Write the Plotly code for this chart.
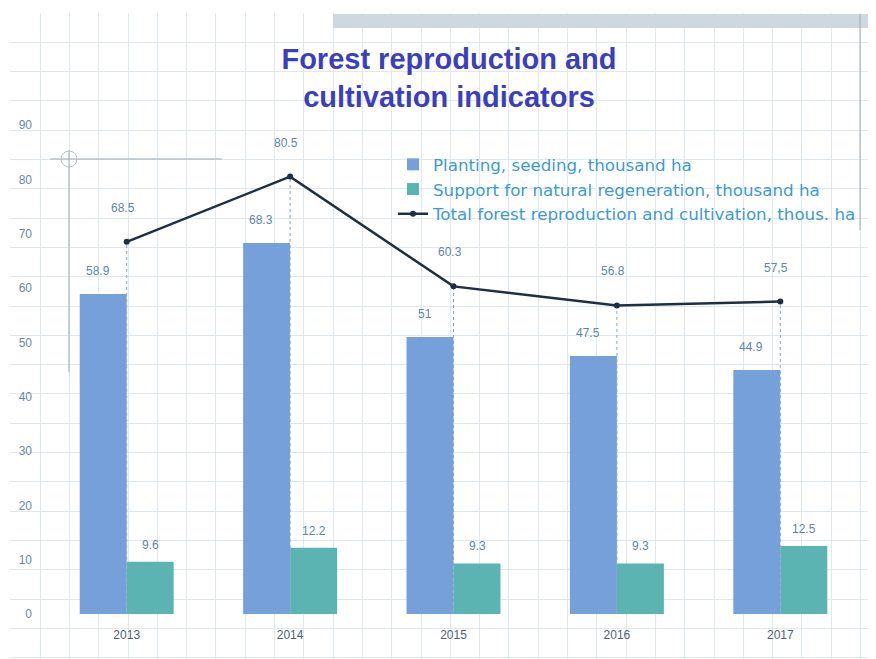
import plotly.graph_objects as go

years = ["2013", "2014", "2015", "2016", "2017"]
planting = [58.9, 68.3, 51.0, 47.5, 44.9]
support = [9.6, 12.2, 9.3, 9.3, 12.5]
total = [68.5, 80.5, 60.3, 56.8, 57.5]
planting_labels = ["58.9", "68.3", "51", "47.5", "44.9"]
support_labels = ["9.6", "12.2", "9.3", "9.3", "12.5"]
total_labels = ["68.5", "80.5", "60.3", "56.8", "57,5"]
y_ticks = [0, 10, 20, 30, 40, 50, 60, 70, 80, 90]

S = 8  # page body margin in the browser
W, H = 876 - S, 659 - S


def px(x):
    return (x - S) / W


def py(y):
    return 1 - (y - S) / H


LEG_FONT = dict(family="DejaVu Sans, Verdana", size=16.7, color="#3b9ad6")
LBL_FONT = dict(family="Liberation Sans, Arial", size=12, color="#5b87a6")

fig = go.Figure()

# graph-paper background grid (decorative axes x/y, drawn first)
fig.add_trace(go.Scatter(x=[None], y=[None], xaxis="x", yaxis="y",
                         showlegend=False, hoverinfo="skip"))

# drop lines from the total line down to the axis
for i, yr in enumerate(years):
    fig.add_trace(go.Scatter(x=[yr, yr], y=[0, total[i]], mode="lines", xaxis="x2", yaxis="y2",
                             line=dict(color="#8aa6c2", width=1, dash="dot"),
                             showlegend=False, hoverinfo="skip"))

fig.add_trace(go.Bar(x=years, y=planting, name="Planting, seeding, thousand ha",
                     xaxis="x2", yaxis="y2",
                     marker=dict(color="#76a0da", line=dict(width=0))))
fig.add_trace(go.Bar(x=years, y=support, name="Support for natural regeneration, thousand ha",
                     xaxis="x2", yaxis="y2",
                     marker=dict(color="#5bb4b1", line=dict(width=0))))
fig.add_trace(go.Scatter(x=years, y=total, mode="lines+markers",
                         name="Total forest reproduction and cultivation, thous. ha",
                         xaxis="x2", yaxis="y2",
                         line=dict(color="#1e2f45", width=2.5),
                         marker=dict(size=6, color="#1e2f45"), cliponaxis=False))

ann = []
for i, yr in enumerate(years):
    ann.append(dict(x=i, y=planting[i], xref="x2", yref="y2", text=planting_labels[i],
                    showarrow=False, xshift=-29, yshift=23, font=LBL_FONT))
    ann.append(dict(x=i, y=support[i], xref="x2", yref="y2", text=support_labels[i],
                    showarrow=False, xshift=24, yshift=17, font=LBL_FONT))
    ann.append(dict(x=i, y=total[i], xref="x2", yref="y2", text=total_labels[i],
                    showarrow=False, xshift=-4, yshift=34, font=LBL_FONT))

shapes = [
    dict(type="rect", xref="paper", yref="paper", x0=px(333), x1=1, y0=py(28), y1=py(14),
         fillcolor="#cdd8df", line=dict(width=0), layer="above"),
    dict(type="line", xref="paper", yref="paper", x0=px(860), x1=px(860), y0=py(14), y1=py(230),
         line=dict(color="#9aa8b4", width=1)),
    dict(type="line", xref="paper", yref="paper", x0=px(50), x1=px(222), y0=py(159), y1=py(159),
         line=dict(color="#a0aab4", width=1)),
    dict(type="line", xref="paper", yref="paper", x0=px(69), x1=px(69), y0=py(150), y1=py(372),
         line=dict(color="#a0aab4", width=1)),
    dict(type="circle", xref="paper", yref="paper", x0=px(61), x1=px(77), y0=py(151), y1=py(167),
         line=dict(color="#b8c0c8", width=1)),
]

fig.update_layout(
    width=W, height=H,
    margin=dict(l=0, r=0, t=0, b=0, autoexpand=False),
    paper_bgcolor="white", plot_bgcolor="rgba(0,0,0,0)",
    barmode="group", bargap=0.425, bargroupgap=0,
    title=dict(text="<b>Forest reproduction and<br>cultivation indicators</b>",
               x=px(449), xanchor="center", y=py(69), yanchor="top",
               font=dict(family="Liberation Sans, Arial", size=29, color="#3c3fbd")),
    xaxis=dict(domain=[px(10), 1], range=[10, 876], tick0=10.8, dtick=29.3,
               showgrid=True, gridcolor="#dfe8f0", gridwidth=1, showticklabels=False,
               zeroline=False, showline=False, anchor="y", fixedrange=True),
    yaxis=dict(domain=[0, py(13)], range=[659, 13], autorange=False, tick0=13, dtick=29.3,
               showgrid=True, gridcolor="#dfe8f0", gridwidth=1, showticklabels=False,
               zeroline=False, showline=False, anchor="x", fixedrange=True),
    xaxis2=dict(domain=[px(45), px(862)], range=[-0.5, 4.5], type="category",
                showgrid=False, zeroline=False, showline=False, anchor="y2",
                tickfont=dict(family="Liberation Sans, Arial", size=12, color="#4f5f70"),
                ticks="", ticklabelstandoff=12),
    yaxis2=dict(domain=[py(614), py(125)], range=[0, 90], tickvals=y_ticks, anchor="x2",
                showgrid=False, zeroline=False, showline=False,
                tickfont=dict(family="Liberation Sans, Arial", size=12, color="#6a88a2"),
                ticks="", ticklabelstandoff=12),
    legend=dict(x=px(393), y=py(147), xanchor="left", yanchor="top",
                bgcolor="rgba(0,0,0,0)", font=LEG_FONT, itemwidth=30),
    annotations=ann, shapes=shapes,
    showlegend=True,
)

fig.write_html("out.html")
